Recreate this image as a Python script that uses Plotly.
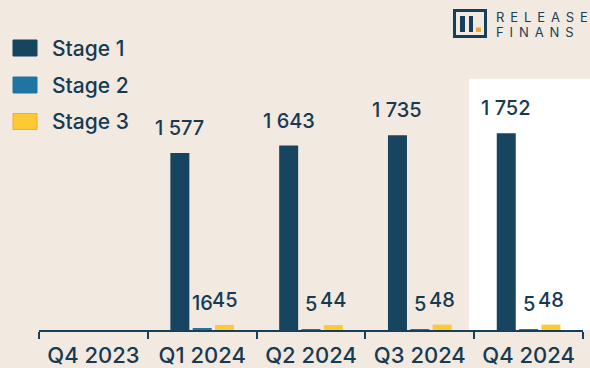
import plotly.graph_objects as go

# ---- data ----
quarters = ["Q4 2023", "Q1 2024", "Q2 2024", "Q3 2024", "Q4 2024"]
series_names = ["Stage 1", "Stage 2", "Stage 3"]
stage1 = [None, 1577, 1643, 1735, 1752]
stage2 = [None, 16, 5, 5, 5]
stage3 = [None, 45, 44, 48, 48]
logo_line1 = "RELEASE"
logo_line2 = "FINANS"

# ---- style ----
BG = "#f2e9e1"
NAVY = "#163f5a"
TEXT = "#163a52"
colors = ["#17445f", "#1f74a1", "#fdc935"]
borders = ["#17445f", "#1f74a1", "#f2ad24"]
FONT = "Inter"
WEIGHT = 500

W, H = 590, 368
ML, MR, MT, MB = 39, 7, 0, 38
PW, PH = W - ML - MR, H - MT - MB
BARGAP, GROUPGAP = 0.384, 0.15
YMAX = 2940


def px_x(px):
    return (px - ML) / PW


def px_y(py):
    return (H - MB - py) / PH


def fmt(v):
    return f"{v:,}".replace(",", "\u00a0")


fig = go.Figure()
all_series = [stage1, stage2, stage3]
for name, vals, col in zip(series_names, all_series, colors):
    fig.add_trace(go.Bar(x=quarters, y=vals, name=name, marker_color=col,
                         marker_line_width=0, showlegend=False))

shapes = []
annotations = []

# highlight latest quarter
shapes.append(dict(type="rect", xref="paper", yref="paper", layer="below",
                   x0=px_x(469), x1=px_x(595), y0=0, y1=px_y(79),
                   fillcolor="white", line_width=0))

# bar value labels
cat_px = PW / len(quarters)
slot = cat_px * (1 - BARGAP) / len(all_series)
for i, vals in enumerate(all_series):
    for q, v in zip(quarters, vals):
        if v is None:
            continue
        annotations.append(dict(x=q, y=v, xref="x", yref="y", text=fmt(v),
                                showarrow=False, yanchor="bottom",
                                xshift=(i - 1) * slot, yshift=11,
                                font=dict(family=FONT, size=20, color=TEXT, weight=WEIGHT)))

# custom legend
leg_y = [48, 85, 121.5]
for name, col, bcol, cy in zip(series_names, colors, borders, leg_y):
    shapes.append(dict(type="rect", xref="paper", yref="paper",
                       x0=px_x(13), x1=px_x(37), y0=px_y(cy + 8), y1=px_y(cy - 8),
                       fillcolor=col, line=dict(color=bcol, width=1)))
    annotations.append(dict(x=px_x(50), y=px_y(cy), xref="paper", yref="paper",
                            text=name, showarrow=False, xanchor="left", yanchor="middle",
                            font=dict(family=FONT, size=21, color=TEXT, weight=WEIGHT)))

# logo
shapes.append(dict(type="rect", xref="paper", yref="paper",
                   x0=px_x(454.5), x1=px_x(485.5), y0=px_y(36.5), y1=px_y(10.5),
                   fillcolor="rgba(0,0,0,0)", line=dict(color=NAVY, width=3)))
for bx0, bx1 in [(460, 465), (469, 473)]:
    shapes.append(dict(type="rect", xref="paper", yref="paper",
                       x0=px_x(bx0), x1=px_x(bx1), y0=px_y(32), y1=px_y(16),
                       fillcolor=NAVY, line_width=0))
shapes.append(dict(type="rect", xref="paper", yref="paper",
                   x0=px_x(476), x1=px_x(481), y0=px_y(32), y1=px_y(27.5),
                   fillcolor="#f0a830", line_width=0))
for txt, cy in [(logo_line1, 16.5), (logo_line2, 31.5)]:
    annotations.append(dict(x=px_x(494), y=px_y(cy), xref="paper", yref="paper",
                            text="\u2009\u2009\u200a".join(txt), showarrow=False,
                            xanchor="left", yanchor="middle",
                            font=dict(family=FONT, size=13, color=NAVY)))

fig.update_layout(
    width=W, height=H,
    margin=dict(l=ML, r=MR, t=MT, b=MB),
    paper_bgcolor=BG, plot_bgcolor="rgba(0,0,0,0)",
    barmode="group", bargap=BARGAP, bargroupgap=GROUPGAP,
    font=dict(family=FONT, color=TEXT),
    shapes=shapes, annotations=annotations,
    showlegend=False,
    xaxis=dict(type="category", categoryorder="array", categoryarray=quarters,
               showline=True, linecolor=NAVY, linewidth=2,
               ticks="outside", tickson="boundaries", ticklen=7, tickwidth=2,
               tickcolor=NAVY, showgrid=False, zeroline=False,
               ticklabelstandoff=5,
               tickfont=dict(family=FONT, size=22, color=TEXT, weight=WEIGHT)),
    yaxis=dict(range=[0, YMAX], visible=False, showgrid=False, zeroline=False),
)

fig.write_html("out.html")
